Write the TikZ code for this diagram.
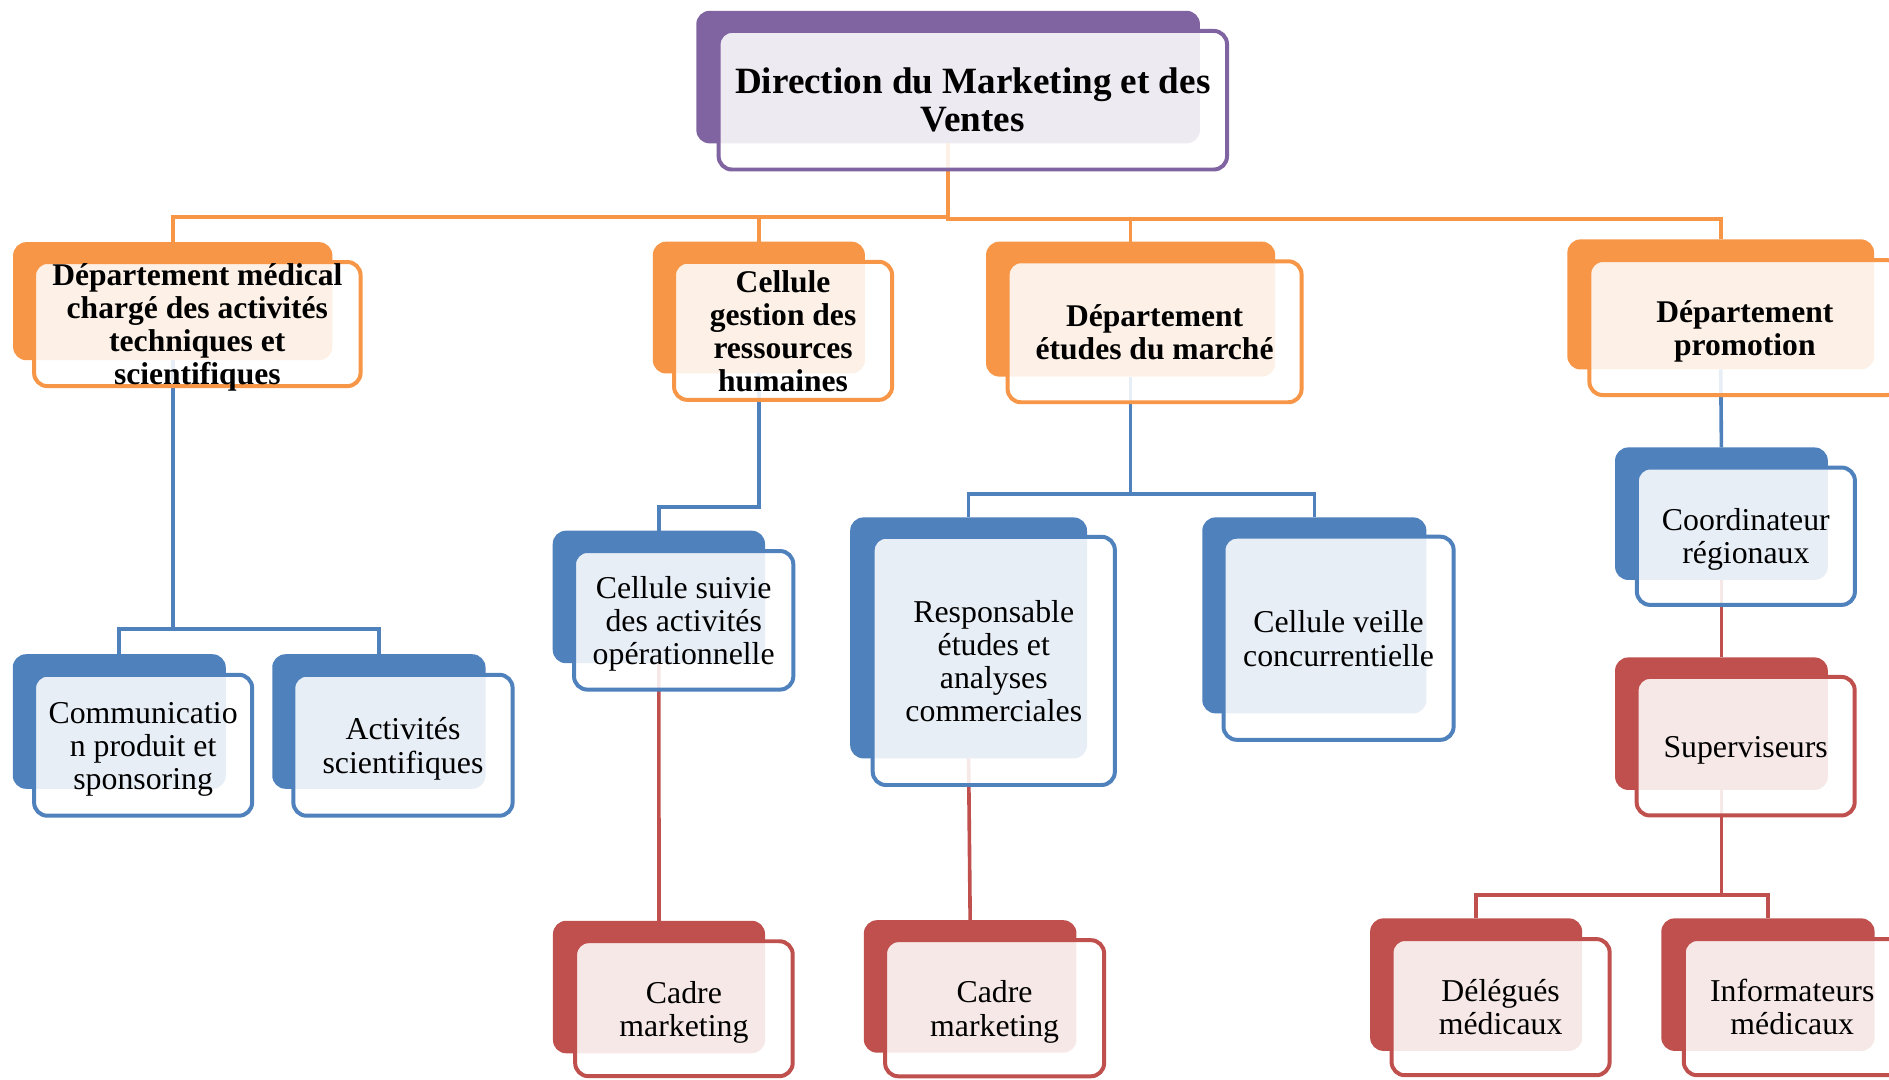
\documentclass[tikz,border=0pt]{standalone}
\usepackage{fontspec}
\setmainfont{Liberation Serif}
\definecolor{purpleC}{HTML}{8064A2}
\definecolor{orangeC}{HTML}{F79646}
\definecolor{blueC}{HTML}{4F81BD}
\definecolor{redC}{HTML}{C0504D}
\pgfdeclarelayer{bg}
\pgfdeclarelayer{cn}
\pgfsetlayers{bg,cn,main}
% #1 name, #2 colour, #3 back centre, #4 back w, #5 back h,
% #6 front centre, #7 front w, #8 front h, #9 text
\newcommand\orgnode[9]{%
  \begin{pgfonlayer}{bg}
    \node[backbox, fill=#2, minimum width=#4, minimum height=#5] (#1) at (#3) {};
  \end{pgfonlayer}
  \node[frontbox, draw=#2, minimum width={#7-3}, minimum height={#8-3}] (#1f) at (#6) {};
  \node[txt, align=center, inner sep=0pt, yshift=-3.8pt] (#1t) at (#1f.center) {\strut#9\strut};
}
\begin{document}
\begin{tikzpicture}[x=1pt,y=-1pt,
  backbox/.style={rectangle, rounded corners=11pt, inner sep=0pt, outer sep=0pt, draw=none},
  frontbox/.style={rectangle, rounded corners=11pt, line width=3.3pt, fill=white, fill opacity=0.87, inner sep=0pt, outer sep=0pt},
  txt/.style={font=\fontsize{26.4}{27.5}\selectfont},
  conn/.style={line width=3pt},
]
\begin{pgfonlayer}{bg}
  \fill[white] (0,0) rectangle (1568,896);
\end{pgfonlayer}
\useasboundingbox (0,0) rectangle (1568,896);
\clip (0,0) rectangle (1568,896);

% top
\tikzset{txt/.style={font=\fontsize{30.8}{32}\selectfont\bfseries}}
\orgnode{top}{purpleC}{787,64}{418}{110}{807.5,83.2}{425}{118}{Direction du Marketing et des\\Ventes}

% level 1
\tikzset{txt/.style={font=\fontsize{26.2}{27.5}\selectfont\bfseries}}
\orgnode{A}{orangeC}{143.4,250}{265}{98}{163.8,269}{274}{106}{Département médical\\chargé des activités\\techniques et\\scientifiques}
\orgnode{B}{orangeC}{629.9,255.3}{176}{109.4}{650,274.6}{184}{117.6}{Cellule\\gestion des\\ressources\\humaines}
\orgnode{C}{orangeC}{938.5,256.6}{240}{112}{958.4,275.4}{247}{120}{Département\\études du marché}
\orgnode{D}{orangeC}{1428.3,252.7}{254.6}{108}{1448.3,271.9}{261}{115}{Département\\promotion}

% level 2 and below
\tikzset{txt/.style={font=\fontsize{26.4}{27.5}\selectfont}}
\orgnode{A1}{blueC}{99,598.9}{176.8}{111.7}{118.8,618.6}{184}{120}{Communicatio\\n produit et\\sponsoring}
\orgnode{A2}{blueC}{314.5,598.9}{177}{111.7}{334.5,618.6}{185}{120}{Activités\\scientifiques}
\orgnode{B1}{blueC}{546.9,495.5}{176.2}{110}{567.5,514.9}{185}{118}{Cellule suivie\\des activités\\opérationnelle}
\orgnode{C1}{blueC}{804,529.5}{196.6}{200}{824.9,548.6}{204}{209}{Responsable\\études et\\analyses\\commerciales}
\orgnode{C2}{blueC}{1091,510.8}{186}{162.7}{1111.1,529.8}{194}{171.6}{Cellule veille\\concurrentielle}
\orgnode{D1}{blueC}{1428.9,426.4}{176.6}{110}{1449.2,445.1}{184}{117}{Coordinateur\\régionaux}
\orgnode{B2}{redC}{547,819.3}{176}{110}{567.7,837.3}{183.6}{115}{Cadre\\marketing}
\orgnode{C3}{redC}{805.3,818.8}{176.5}{110}{825.6,836.9}{184.8}{116}{Cadre\\marketing}
\orgnode{D2}{redC}{1428.9,600.7}{176.6}{110}{1449,619.4}{184}{118}{Superviseurs}
\orgnode{D3}{redC}{1225.3,817.3}{176}{110}{1245.6,836}{184}{116}{Délégués\\médicaux}
\orgnode{D4}{redC}{1467.5,817.3}{177}{110}{1487.7,836}{183}{116}{Informateurs\\médicaux}

% connectors
\begin{pgfonlayer}{cn}
  \draw[conn, orangeC] (top.south) -- ++(0,61) -| (A.north);
  \draw[conn, orangeC] (top.south) -- ++(0,61) -| (B.north);
  \draw[conn, orangeC] (top.south) -- ++(0,63) -| (C.north);
  \draw[conn, orangeC] (top.south) -- ++(0,63) -| (D.north);
  \draw[conn, blueC] (A.south) -- ++(0,223) -| (A1.north);
  \draw[conn, blueC] (A.south) -- ++(0,223) -| (A2.north);
  \draw[conn, blueC] (B.south) -- ++(0,111) -| (B1.north);
  \draw[conn, blueC] (C.south) -- ++(0,97.4) -| (C1.north);
  \draw[conn, blueC] (C.south) -- ++(0,97.4) -| (C2.north);
  \draw[conn, blueC] (D.south) -- (D1.north);
  \draw[conn, redC] (D1.south) -- (D2.north);
  \draw[conn, redC] (B1.south) -- (B2.north);
  \draw[conn, redC] (C1.south) -- (C3.north);
  \draw[conn, redC] (D2.south) -- ++(0,87.2) -| (D3.north);
  \draw[conn, redC] (D2.south) -- ++(0,87.2) -| (D4.north);
\end{pgfonlayer}
\end{tikzpicture}
\end{document}
